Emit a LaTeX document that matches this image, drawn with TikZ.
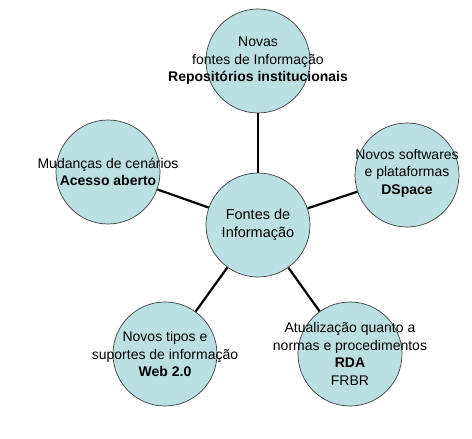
\documentclass[tikz,border=0pt]{standalone}
\usepackage{fontspec}
\setmainfont{Liberation Sans}
\definecolor{BubbleFill}{RGB}{187, 224, 227}
\definecolor{BubbleLine}{RGB}{60, 60, 60}
\begin{document}
\begin{tikzpicture}[x=1pt, y=-1pt,
  bubble/.style={circle, draw=BubbleLine, line width=0.7pt, fill=BubbleFill, minimum size=104pt, inner sep=0pt},
  lab/.style={font=\fontsize{14}{17.5}\selectfont, align=center, inner sep=0pt},
  hub/.style={lab, font=\fontsize{14.5}{17.5}\selectfont},
  link/.style={line width=2.2pt, black}]
\useasboundingbox (0,0) rectangle (472,439);
\node[bubble] (fontes) at (258, 225) {};
\node[bubble] (novas) at (258, 61) {};
\node[bubble] (mudancas) at (108, 172) {};
\node[bubble] (softwares) at (407, 175) {};
\node[bubble] (tipos) at (165, 354) {};
\node[bubble] (normas) at (350, 354) {};
\draw[link] (fontes) -- (novas); \draw[link] (fontes) -- (mudancas); \draw[link] (fontes) -- (softwares);
\draw[link] (fontes) -- (tipos); \draw[link] (fontes) -- (normas);
\node[hub] (fontesT) at (fontes) {Fontes de\\ Informação};
\node[lab] (novasT) at (novas) {Novas\\ fontes de Informação\\ \textbf{Repositórios institucionais}};
\node[lab] (mudancasT) at (mudancas) {Mudanças de cenários\\ \textbf{Acesso aberto}};
\node[lab] (softwaresT) at (407, 173) {Novos softwares\\ e plataformas\\ \textbf{DSpace}};
\node[lab] (tiposT) at (tipos) {Novos tipos e\\ suportes de informação\\ \textbf{Web 2.0}};
\node[lab] (normasT) at (normas) {Atualização quanto a\\ normas e procedimentos\\ \textbf{RDA}\\ FRBR};
\end{tikzpicture}
\end{document}
